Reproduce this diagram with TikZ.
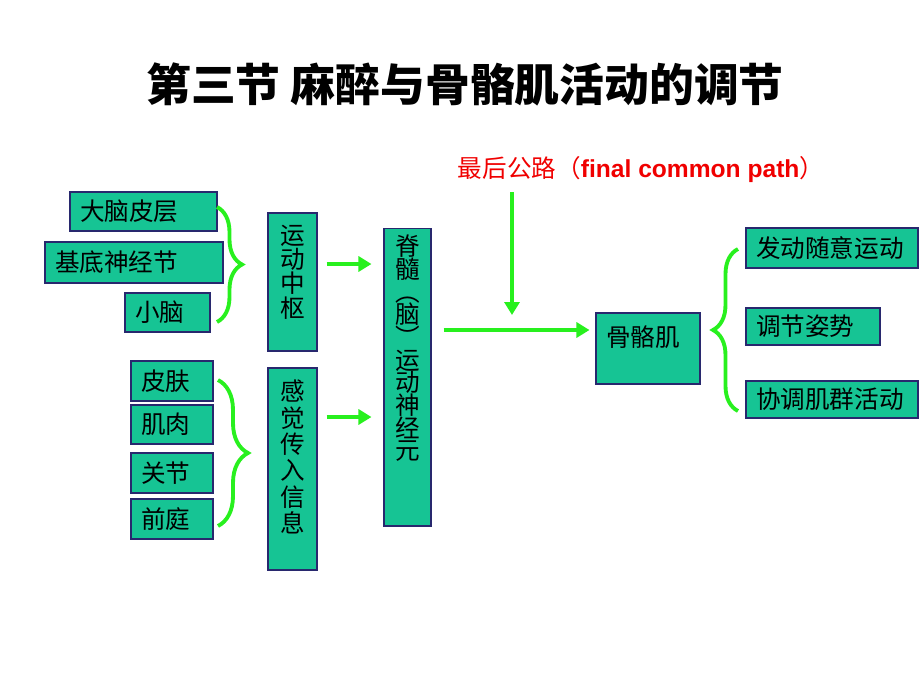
\documentclass[tikz,border=0pt]{standalone}
\usepackage{fontspec}
\setmainfont{Noto Sans CJK SC}
\newfontfamily\latinbold{Liberation Sans}
\usetikzlibrary{arrows.meta,decorations.pathreplacing,positioning}

\definecolor{boxfill}{RGB}{22,196,148}
\definecolor{boxedge}{RGB}{40,40,110}
\definecolor{brightgreen}{RGB}{40,240,30}
\definecolor{fcpred}{RGB}{240,0,0}

% vertical column of characters: height, top gap, line pitch, text
\newcommand\vcol[4]{\parbox[c][#1][t]{1.2em}{\baselineskip=#3\centering\vspace*{#2}#4\par}}

\begin{document}
\begin{tikzpicture}[
   x=0.02cm, y=-0.02cm,
   box/.style={draw=boxedge, fill=boxfill, line width=0.6pt, inner sep=0pt,
               font=\fontsize{14pt}{14pt}\selectfont},
   hbox/.style={box, align=left, inner xsep=0.2cm},
   garrow/.style={draw=brightgreen, line width=2.6pt, -{Triangle[length=0.26cm, width=0.3cm]}},
   curly/.style={draw=brightgreen, line width=2.2pt, decorate, decoration={brace, amplitude=#1}}
]
\useasboundingbox (0,0) rectangle (920,690);

% Title
\node[font=\bfseries\fontsize{25.5pt}{26pt}\selectfont] (title) at (465,84) {第三节 麻醉与骨骼肌活动的调节};

% Motor centres
\node[hbox, text width=2.54cm, minimum height=0.78cm] (cortex) at (143.5,211.5) {大脑皮层};
\node[hbox, text width=3.16cm, minimum height=0.82cm] (basal) at (134,262.5) {基底神经节};
\node[hbox, text width=1.30cm, minimum height=0.78cm] (cereb) at (167.5,312.5) {小脑};

% Sensory inputs
\node[hbox, text width=1.24cm, minimum height=0.80cm] (skin) at (172,381) {皮肤};
\node[hbox, text width=1.24cm, minimum height=0.78cm] (muscle) at (172,424.5) {肌肉};
\node[hbox, text width=1.24cm, minimum height=0.80cm] (joint) at (172,473) {关节};
\node[hbox, text width=1.24cm, minimum height=0.80cm] (vest) at (172,519) {前庭};

% Vertical boxes
\node[box, minimum width=0.98cm] (motor) at (292.5,282) {\vcol{2.76cm}{0.24cm}{13.8pt}{运\\动\\中\\枢}};
\node[box, minimum width=0.98cm] (sensory) at (292.5,469) {\vcol{4.04cm}{0.24cm}{15pt}{感\\觉\\传\\入\\信\\息}};
\node[box, minimum width=0.94cm] (spinal) at (407.5,377) {\vcol{5.96cm}{0.14cm}{12.9pt}{脊\\髓\\︵\\脑\\︶\\运\\动\\神\\经\\元}};

% Final common path
\node[text=fcpred, font=\fontsize{14pt}{14pt}\selectfont] (fcp) at (641,170) {最后公路（{\latinbold\bfseries final common path}）};
\node[box, minimum width=2.08cm] (skm) at (648,348.5) {\parbox[c][1.42cm][t]{1.68cm}{\vspace*{0.26cm}骨骼肌}};

% Effects
\node[hbox, text width=3.04cm, minimum height=0.80cm] (vol) at (832,248) {发动随意运动};
\node[hbox, text width=2.28cm, minimum height=0.74cm] (posture) at (813,326.5) {调节姿势};
\node[hbox, text width=3.04cm, minimum height=0.74cm] (coord) at (832,399.5) {协调肌群活动};

% Braces
\coordinate (b1top) at (217,207);
\coordinate (b1bot) at (217,322);
\coordinate (b2top) at (218,380);
\coordinate (b2bot) at (218,526);
\coordinate (b3top) at (738,249);
\coordinate (b3bot) at (738,411);
\draw[curly=0.5cm] (b1top) -- (b1bot);
\draw[curly=0.6cm] (b2top) -- (b2bot);
\draw[curly=0.5cm] (b3bot) -- (b3top);

% Arrows
\coordinate (row1) at (0,264);
\coordinate (row2) at (0,417);
\coordinate (join) at (512,330);
\draw[garrow, shorten <=0.18cm, shorten >=0.24cm] (motor.east |- row1) -- (spinal.west |- row1);
\draw[garrow, shorten <=0.18cm, shorten >=0.24cm] (sensory.east |- row2) -- (spinal.west |- row2);
\draw[garrow, shorten <=0.24cm, shorten >=0.12cm] (spinal.east |- join) -- (skm.west |- join);
\draw[garrow, shorten <=0.06cm, shorten >=0.3cm] (fcp.south -| join) -- (join);

\end{tikzpicture}
\end{document}
